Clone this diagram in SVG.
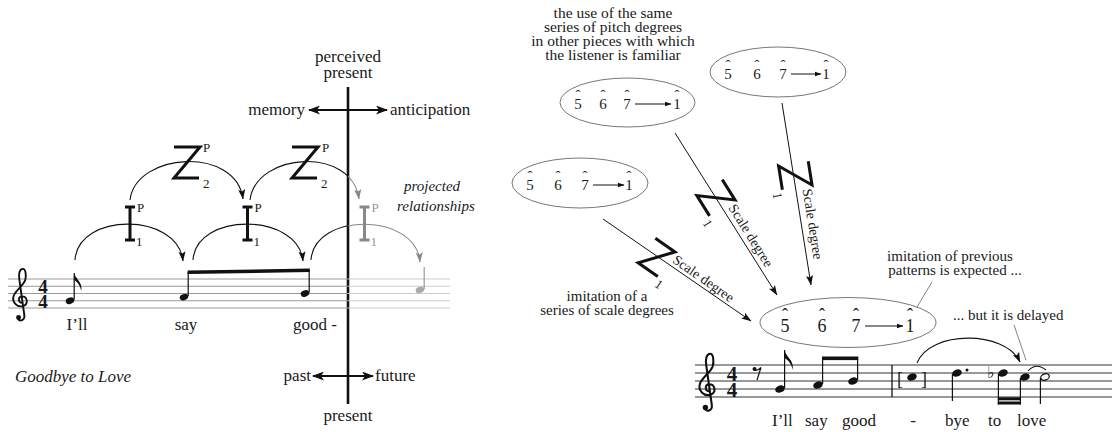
<svg xmlns="http://www.w3.org/2000/svg" width="1112" height="432" viewBox="0 0 1112 432" font-family="'Liberation Serif', 'DejaVu Serif', serif">
<style>
 text { font-family: 'Liberation Serif', 'DejaVu Serif', serif; fill:#1a1a1a; }
 .lbl { font-size:17px; }
 .it { font-style:italic; }
 .sm { font-size:13px; }
 .sd { font-size:14px; }
 .deg { font-size:15px; text-anchor:middle; }
 .degL { font-size:18px; text-anchor:middle; }
 .mid { text-anchor:middle; }
 .end { text-anchor:end; }
 .ts { font-weight:bold; text-anchor:middle; }
 .thick { stroke:#111; stroke-width:3; fill:none; stroke-linejoin:miter; }
 .gthick { stroke:#888; stroke-width:3; fill:none; }
 .arc { stroke:#111; stroke-width:1.1; fill:none; }
 .garc { stroke:#888; stroke-width:1.1; fill:none; }
 .conn { stroke:#111; stroke-width:1; fill:none; }
 .ell { fill:none; stroke:#777; stroke-width:1; }
 .lead { stroke:#666; stroke-width:0.8; }
 .staffL { stroke:#999; stroke-width:1; }
 .staffG { stroke:#ccc; stroke-width:1; }
 .staffR { stroke:#333; stroke-width:1; }
 .stem { stroke:#111; stroke-width:1.2; }
 .gstem { stroke:#999; stroke-width:1.2; }
 .axis { stroke:#111; stroke-width:2.6; }
</style>
<defs>
 <marker id="ah" markerUnits="userSpaceOnUse" markerWidth="10" markerHeight="8" refX="9.5" refY="4" orient="auto"><path d="M0,0.5 L10,4 L0,7.5 L2,4 z" fill="#111"/></marker>
 <marker id="ahg" markerUnits="userSpaceOnUse" markerWidth="10" markerHeight="8" refX="9.5" refY="4" orient="auto"><path d="M0,0.5 L10,4 L0,7.5 L2,4 z" fill="#888"/></marker>
 <marker id="ahs" markerUnits="userSpaceOnUse" markerWidth="7" markerHeight="6" refX="6.5" refY="3" orient="auto"><path d="M0,0.5 L7,3 L0,5.5 z" fill="#111"/></marker>
 <marker id="ahb" markerUnits="userSpaceOnUse" markerWidth="12" markerHeight="9" refX="11" refY="4.5" orient="auto-start-reverse"><path d="M0,0 L12,4.5 L0,9 L3,4.5 z" fill="#111"/></marker>
 <clipPath id="cL"><rect x="0" y="0" width="348" height="432"/></clipPath>
 <clipPath id="cR"><rect x="348" y="0" width="300" height="432"/></clipPath>
 <g id="clef">
  <path d="M3,3 C-3,3 -3,-6 3,-6 C10,-6 12,4 5,7 C-4,10 -11,2 -9,-6 C-7,-14 4,-20 7,-28 C9,-34 8,-44 4,-44 C-1,-44 -2,-36 -1,-30 L6,20 C7,27 0,29 -3,25" fill="none" stroke="#111" stroke-width="2.6"/>
  <circle cx="-2" cy="23" r="3.4" fill="#111"/>
 </g>
 <ellipse id="nhL" rx="4.4" ry="3.1" transform="rotate(-20)"/>
 <ellipse id="nhR" rx="4.9" ry="3.5" transform="rotate(-20)"/>
</defs>

<!-- ===== LEFT DIAGRAM ===== -->
<g id="time-axis">
 <line class="axis" x1="348" y1="87" x2="348" y2="404"/>
 <text class="lbl mid" x="348" y="62">perceived<tspan x="348" y="78">present</tspan></text>
 <text class="lbl end" x="305" y="115">memory</text>
 <text class="lbl" x="390" y="115">anticipation</text>
 <line x1="309" y1="110" x2="387" y2="110" stroke="#111" stroke-width="2" marker-start="url(#ahb)" marker-end="url(#ahb)"/>
 <text class="lbl end" x="311" y="381">past</text>
 <text class="lbl" x="375" y="381">future</text>
 <line x1="313" y1="376" x2="373" y2="376" stroke="#111" stroke-width="2" marker-start="url(#ahb)" marker-end="url(#ahb)"/>
 <text class="lbl mid" x="348" y="421">present</text>
</g>

<g id="staff-left">
 <g class="staffL">
  <line x1="8" y1="279" x2="348" y2="279"/><line x1="8" y1="286.25" x2="348" y2="286.25"/><line x1="8" y1="293.5" x2="348" y2="293.5"/><line x1="8" y1="300.75" x2="348" y2="300.75"/><line x1="8" y1="308" x2="348" y2="308"/>
 </g>
 <g class="staffG">
  <line x1="348" y1="279" x2="450" y2="279"/><line x1="348" y1="286.25" x2="450" y2="286.25"/><line x1="348" y1="293.5" x2="450" y2="293.5"/><line x1="348" y1="300.75" x2="450" y2="300.75"/><line x1="348" y1="308" x2="450" y2="308"/>
 </g>
 <use href="#clef" transform="translate(20,300.75) scale(0.725)"/>
 <text class="ts" x="43" y="293" font-size="19">4<tspan x="43" y="308">4</tspan></text>
 <use href="#nhL" x="70" y="300.75" fill="#111"/>
 <line class="stem" x1="74.2" y1="299.5" x2="74.2" y2="273"/>
 <path d="M74.2,273 c1,6 9,9 7,18 c-1,-6 -4,-9 -7,-11 z" fill="#111"/>
 <use href="#nhL" x="184" y="297.1" fill="#111"/>
 <line class="stem" x1="188.2" y1="296" x2="188.2" y2="272"/>
 <use href="#nhL" x="305" y="293.5" fill="#111"/>
 <line class="stem" x1="309.2" y1="292.5" x2="309.2" y2="270"/>
 <path d="M187.6,270.5 L309.8,268.5 L309.8,272 L187.6,274 z" fill="#111"/>
 <use href="#nhL" x="420" y="289.9" fill="#aaa"/>
 <line class="gstem" x1="424.2" y1="289" x2="424.2" y2="267"/>
 <text class="lbl mid" x="77" y="330">I’ll</text>
 <text class="lbl mid" x="186" y="330">say</text>
 <text class="lbl" x="293" y="330">good -</text>
 <text class="lbl it" x="15" y="382">Goodbye to Love</text>
</g>

<g id="connectors-left">
 <path class="arc" d="M75,260 C78,212 178,212 183,261" marker-end="url(#ah)"/>
 <path class="arc" d="M193,260 C196,212 298,212 303,261" marker-end="url(#ah)"/>
 <path class="arc" d="M311,260 C314,212 416,212 420,262" clip-path="url(#cL)"/>
 <path class="garc" d="M311,260 C314,212 416,212 420,262" clip-path="url(#cR)" marker-end="url(#ahg)"/>
 <path class="arc" d="M130,200 C136,152 236,146 243,199" marker-end="url(#ah)"/>
 <path class="arc" d="M250,200 C256,152 352,146 359,199" clip-path="url(#cL)"/>
 <path class="garc" d="M250,200 C256,152 352,146 359,199" clip-path="url(#cR)" marker-end="url(#ahg)"/>
</g>

<g id="Z2-a">
 <polyline class="thick" points="174,147 200,147 174,178 199,178"/>
 <text class="sm" x="203" y="152">P</text>
 <text class="sm" x="203" y="188">2</text>
</g>
<g id="Z2-b">
 <polyline class="thick" points="292,147 318,147 292,178 317,178"/>
 <text class="sm" x="322" y="152">P</text>
 <text class="sm" x="321" y="188">2</text>
</g>
<g id="I1-a">
 <path class="thick" d="M125,207 H135 M130,207 V240 M125,240 H135"/>
 <text class="sm" x="137" y="212">P</text>
 <text class="sm" x="136" y="246">1</text>
</g>
<g id="I1-b">
 <path class="thick" d="M242.5,207 H252.5 M247.5,207 V240 M242.5,240 H252.5"/>
 <text class="sm" x="254.5" y="212">P</text>
 <text class="sm" x="253.5" y="246">1</text>
</g>
<g id="I1-c">
 <path class="gthick" d="M359.5,207 H369.5 M364.5,207 V240 M359.5,240 H369.5"/>
 <text class="sm" x="371.5" y="212" style="fill:#999">P</text>
 <text class="sm" x="370.5" y="246" style="fill:#999">1</text>
</g>
<g id="projected-label">
 <text class="it mid" x="432" y="191" font-size="15">projected<tspan x="436" y="211">relationships</tspan></text>
</g>

<!-- ===== RIGHT DIAGRAM ===== -->
<g id="caption-top">
 <text class="mid" x="613" y="18" font-size="15.5">the use of the same<tspan x="613" y="32">series of pitch degrees</tspan><tspan x="613" y="46">in other pieces with which</tspan><tspan x="613" y="60">the listener is familiar</tspan></text>
</g>

<g id="ellipse-A">
 <ellipse class="ell" cx="627.5" cy="102.5" rx="67.5" ry="24.5"/>
 <text class="deg" x="578" y="109">5<tspan x="578" y="100">ˆ</tspan><tspan x="603" y="109">6</tspan><tspan x="603" y="100">ˆ</tspan><tspan x="627" y="109">7</tspan><tspan x="627" y="100">ˆ</tspan><tspan x="677" y="109">1</tspan><tspan x="677" y="100">ˆ</tspan></text>
 <line class="conn" x1="635" y1="104" x2="671" y2="104" marker-end="url(#ahs)"/>
</g>
<g id="ellipse-B">
 <ellipse class="ell" cx="580" cy="183" rx="68" ry="25"/>
 <text class="deg" x="530" y="190">5<tspan x="530" y="181">ˆ</tspan><tspan x="558" y="190">6</tspan><tspan x="558" y="181">ˆ</tspan><tspan x="585" y="190">7</tspan><tspan x="585" y="181">ˆ</tspan><tspan x="629" y="190">1</tspan><tspan x="629" y="181">ˆ</tspan></text>
 <line class="conn" x1="593" y1="185" x2="624" y2="185" marker-end="url(#ahs)"/>
</g>
<g id="ellipse-C">
 <ellipse class="ell" cx="778" cy="72" rx="68" ry="25"/>
 <text class="deg" x="728" y="79">5<tspan x="728" y="70">ˆ</tspan><tspan x="757" y="79">6</tspan><tspan x="757" y="70">ˆ</tspan><tspan x="783" y="79">7</tspan><tspan x="783" y="70">ˆ</tspan><tspan x="826" y="79">1</tspan><tspan x="826" y="70">ˆ</tspan></text>
 <line class="conn" x1="791" y1="74" x2="821" y2="74" marker-end="url(#ahs)"/>
</g>
<g id="ellipse-D">
 <ellipse class="ell" cx="848" cy="322.5" rx="88" ry="25"/>
 <text class="degL" x="785" y="332">5<tspan x="785" y="321">ˆ</tspan><tspan x="822" y="332">6</tspan><tspan x="822" y="321">ˆ</tspan><tspan x="856" y="332">7</tspan><tspan x="856" y="321">ˆ</tspan><tspan x="910" y="332">1</tspan><tspan x="910" y="321">ˆ</tspan></text>
 <line class="conn" x1="865" y1="326" x2="903" y2="326" marker-end="url(#ahs)"/>
</g>

<g id="connectors-right">
 <line class="conn" x1="675" y1="133" x2="777" y2="295" marker-end="url(#ah)"/>
 <line class="conn" x1="603" y1="219" x2="751" y2="321" marker-end="url(#ah)"/>
 <line class="conn" x1="782" y1="103" x2="811" y2="285" marker-end="url(#ah)"/>
 <line class="lead" x1="932" y1="282" x2="917" y2="307"/>
 <line class="lead" x1="1014" y1="325" x2="1026" y2="360"/>
 <path class="arc" d="M917,363 C930,330 1005,330 1020,362" marker-end="url(#ah)"/>
</g>

<g id="Z1-A" transform="translate(735,200) rotate(58)">
 <polyline class="thick" points="-24,0 0,0 -24,30 0,30"/>
 <text class="sd" x="3" y="10">Scale degree</text>
 <text class="sm" x="2" y="40">1</text>
</g>
<g id="Z1-B" transform="translate(675,252) rotate(35)">
 <polyline class="thick" points="-24,0 0,0 -24,30 0,30"/>
 <text class="sd" x="3" y="10">Scale degree</text>
 <text class="sm" x="2" y="40">1</text>
</g>
<g id="Z1-C" transform="translate(812,185) rotate(81)">
 <polyline class="thick" points="-24,0 0,0 -24,30 0,30"/>
 <text class="sd" x="3" y="10">Scale degree</text>
 <text class="sm" x="2" y="40">1</text>
</g>

<g id="labels-right">
 <text class="mid" x="607" y="301" font-size="15">imitation of a<tspan x="607" y="315">series of scale degrees</tspan></text>
 <text class="mid" x="950" y="261" font-size="15">imitation of previous<tspan x="955" y="275">patterns is expected ...</tspan></text>
 <text x="953" y="320" font-size="15">... but it is delayed</text>
</g>

<g id="staff-right">
 <g class="staffR">
  <line x1="695" y1="365" x2="1112" y2="365"/><line x1="695" y1="373" x2="1112" y2="373"/><line x1="695" y1="381" x2="1112" y2="381"/><line x1="695" y1="389" x2="1112" y2="389"/><line x1="695" y1="397" x2="1112" y2="397"/>
 </g>
 <line x1="892" y1="365" x2="892" y2="397" stroke="#111" stroke-width="1.3"/>
 <use href="#clef" transform="translate(707,389) scale(0.8)"/>
 <text class="ts" x="732" y="380.5" font-size="21">4<tspan x="732" y="397">4</tspan></text>
 <circle cx="754.5" cy="369" r="2" fill="#111"/>
 <path d="M754,370 Q757.5,371.5 761,367.5 L757,380" fill="none" stroke="#111" stroke-width="1.2"/>
 <use href="#nhR" x="780" y="389" fill="#111"/>
 <line class="stem" x1="784.6" y1="388" x2="784.6" y2="350"/>
 <path d="M784.6,350 c1,7 10,10 8,20 c-1,-7 -5,-10 -8,-12 z" fill="#111"/>
 <use href="#nhR" x="818" y="385" fill="#111"/>
 <line class="stem" x1="822.6" y1="384" x2="822.6" y2="357"/>
 <use href="#nhR" x="853" y="381" fill="#111"/>
 <line class="stem" x1="857.6" y1="380" x2="857.6" y2="357"/>
 <rect x="822" y="356.5" width="36.2" height="3.6" fill="#111"/>
 <text x="897" y="385" font-size="18">[<tspan x="921">]</tspan></text>
 <use href="#nhR" x="912" y="377" fill="#111"/>
 <use href="#nhR" x="957" y="373" fill="#111"/>
 <line class="stem" x1="952.4" y1="374" x2="952.4" y2="401"/>
 <circle cx="967" cy="370" r="1.5" fill="#111"/>
 <text x="987" y="378" font-size="16" style="font-family:'DejaVu Sans',sans-serif">♭</text>
 <use href="#nhR" x="1003" y="373" fill="#111"/>
 <line class="stem" x1="998.4" y1="374" x2="998.4" y2="404.5"/>
 <use href="#nhR" x="1025" y="377" fill="#111"/>
 <line class="stem" x1="1020.4" y1="378" x2="1020.4" y2="404.5"/>
 <rect x="997.8" y="401.5" width="23.2" height="3" fill="#111"/>
 <rect x="997.8" y="397.3" width="23.2" height="3" fill="#111"/>
 <ellipse cx="1045" cy="377" rx="4.4" ry="3.1" transform="rotate(-20 1045 377)" fill="none" stroke="#111" stroke-width="1.3"/>
 <line class="stem" x1="1040.4" y1="378" x2="1040.4" y2="404"/>
 <path d="M1028,371 Q1036,362 1046,370" fill="none" stroke="#111" stroke-width="1.1"/>
 <text class="lbl" x="772" y="426">I’ll</text>
 <text class="lbl" x="805" y="426">say</text>
 <text class="lbl" x="842" y="426">good</text>
 <text class="lbl mid" x="913" y="426">-</text>
 <text class="lbl" x="945" y="426">bye</text>
 <text class="lbl" x="988" y="426">to</text>
 <text class="lbl" x="1017" y="426">love</text>
</g>
</svg>
